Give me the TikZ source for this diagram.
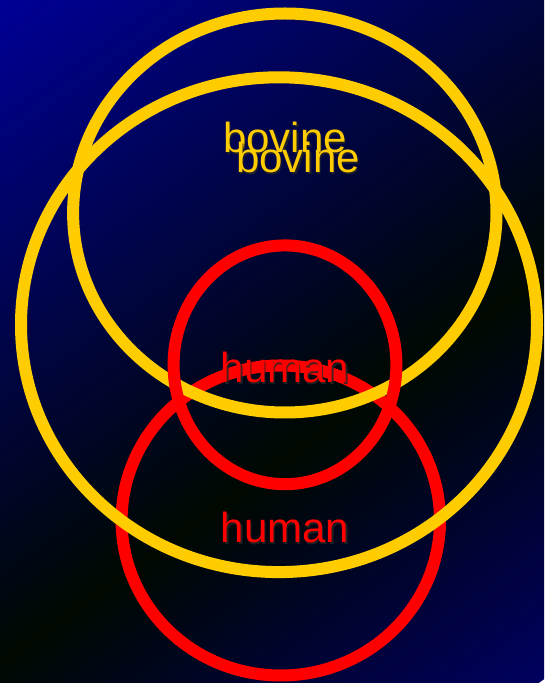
\documentclass[tikz,border=0pt]{standalone}
\usepackage{fontspec}
\setmainfont{Liberation Sans}
\definecolor{bgA}{RGB}{0,0,150}
\definecolor{bgB}{RGB}{0,8,0}
\definecolor{bgC}{RGB}{0,0,95}
\definecolor{ringY}{RGB}{255,204,0}
\definecolor{ringR}{RGB}{255,0,0}
\pgfdeclarehorizontalshading{bgshade}{100bp}{color(0bp)=(bgA); color(25bp)=(bgA); color(56bp)=(bgB); color(75bp)=(bgC); color(100bp)=(bgC)}
\tikzset{
  yring/.style={draw=ringY, line width=12pt},
  rring/.style={draw=ringR, line width=12pt},
  lbl/.style={inner sep=0pt, anchor=base, font=\fontsize{42}{50}\selectfont},
  shadowlbl/.style={lbl, text=black!85, opacity=0.8}
}
\begin{document}
\begin{tikzpicture}[x=1pt,y=1pt]
\useasboundingbox (0,0) rectangle (544,683);
\begin{scope}
  \clip (0,0) rectangle (544,683);
  \shade[shading=bgshade, transform canvas={shift={(0pt,683pt)}, rotate=-54.4}] (0,-450) rectangle (869,450);
\end{scope}
% rings
\draw[rring] (280.8,162.5) ellipse [x radius=159.2, y radius=155];
\draw[yring] (279,358.3) ellipse [x radius=258, y radius=247.4];
\draw[yring] (284.8,470) ellipse [x radius=211.7, y radius=199.5];
\draw[rring] (285,318.2) ellipse [x radius=111.4, y radius=119.4];
% labels (with shadows)
\node[shadowlbl] (b1s) at (286.5,528.5) {bovine};
\node[lbl, text=ringY] (b1) at (285,530) {bovine};
\node[shadowlbl] (b2s) at (299.5,508.5) {bovine};
\node[lbl, text=ringY] (b2) at (298,510) {bovine};
\node[shadowlbl] (h1s) at (286.5,298.5) {human};
\node[lbl, text=ringR] (h1) at (285,300) {human};
\node[shadowlbl] (h2s) at (286.5,138.5) {human};
\node[lbl, text=ringR] (h2) at (285,140) {human};
\end{tikzpicture}
\end{document}
